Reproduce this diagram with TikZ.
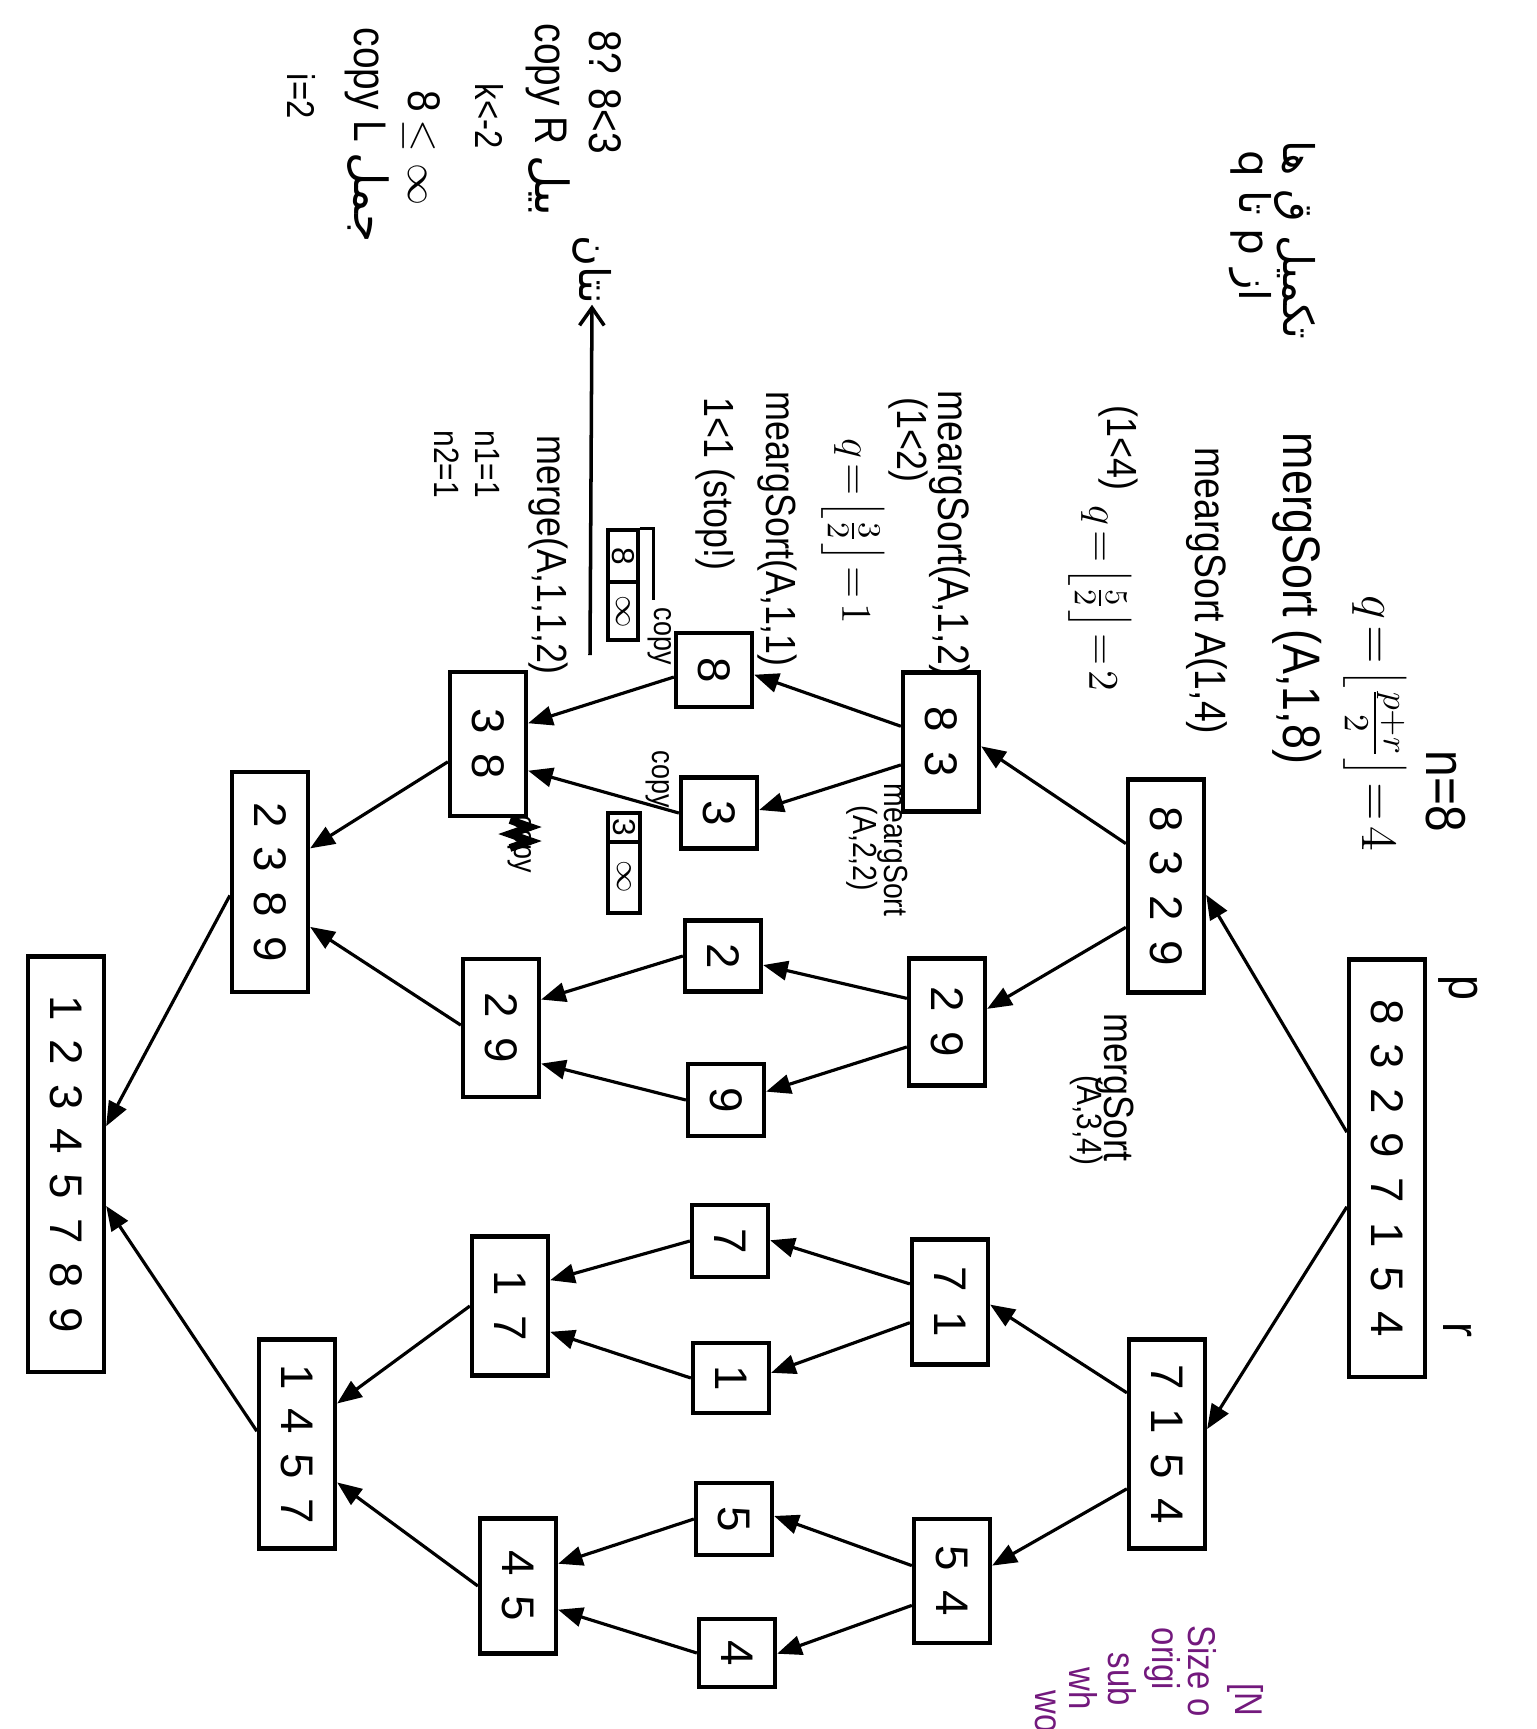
\documentclass[tikz,border=0pt]{standalone}
\usepackage{fontspec}
\setmainfont{Liberation Sans}
\newfontfamily\hwf[FakeStretch=0.85]{Liberation Sans}
\newfontfamily\fa[Script=Arabic]{DejaVu Sans}
\usetikzlibrary{calc,arrows.meta}
\TeXXeTstate=1
\definecolor{pur}{RGB}{115,25,125}
\newcommand\dg[1]{\rotatebox{-90}{#1}}
\newcommand\spc{\hspace{0.42em}}
\newcommand\mq[3]{$\medmuskip=1mu\thickmuskip=2mu q=\left\lfloor\frac{#1}{#2}\right\rfloor=#3$}
\newcommand\conn[4]{\draw[arr] ($(#1.north west)!#2!(#1.south west)$) -- ($(#3.north east)!#4!(#3.south east)$);}
\begin{document}
\begin{tikzpicture}[x=0.01cm,y=-0.01cm,
  bx/.style={draw,line width=1.2pt,minimum width=0.76cm,inner sep=0pt,font=\fontsize{13}{15}\selectfont},
  arr/.style={line width=0.9pt,-{Triangle[length=7pt,width=5.5pt]}},
  hw/.style={rotate=-90,anchor=west,inner sep=0pt,font=\hwf\fontsize{12}{14}\selectfont},
  hws/.style={rotate=-90,anchor=west,inner sep=0pt,font=\hwf\fontsize{9}{11}\selectfont},
  hwp/.style={rotate=-90,anchor=west,inner sep=0pt,font=\fa\fontsize{12}{14}\selectfont},
  pw/.style={rotate=-90,anchor=west,inner sep=0pt,text=pur,font=\hwf\fontsize{11}{13}\selectfont},
]
\useasboundingbox (0,0) rectangle (1537,1729);
\clip (0,0) rectangle (1537,1729);
% ---------- boxes ----------
\node[bx,minimum height=4.17cm] (root) at (1387,1168) {\dg{8\spc3\spc2\spc9\spc7\spc1\spc5\spc4}};
\node[bx,minimum height=2.13cm] (b8329) at (1166,886) {\dg{8\spc3\spc2\spc9}};
\node[bx,minimum height=2.09cm] (b7154) at (1167,1444) {\dg{7\spc1\spc5\spc4}};
\node[bx,minimum height=1.39cm] (b83) at (941,742) {\dg{8\spc3}};
\node[bx,minimum height=1.27cm] (b29) at (947,1022) {\dg{2\spc9}};
\node[bx,minimum height=1.25cm] (b71) at (950,1302) {\dg{7\spc1}};
\node[bx,minimum height=1.24cm] (b54) at (952,1581) {\dg{5\spc4}};
\node[bx,minimum height=0.74cm] (b8) at (714,670) {\dg{8}};
\node[bx,minimum height=0.71cm] (b3) at (719,813) {\dg{3}};
\node[bx,minimum height=0.71cm] (b2) at (723,956) {\dg{2}};
\node[bx,minimum height=0.72cm] (b9) at (726,1100) {\dg{9}};
\node[bx,minimum height=0.72cm] (b7) at (730,1241) {\dg{7}};
\node[bx,minimum height=0.70cm] (b1) at (731,1378) {\dg{1}};
\node[bx,minimum height=0.72cm] (b5) at (734,1519) {\dg{5}};
\node[bx,minimum height=0.68cm] (b4) at (737,1653) {\dg{4}};
\node[bx,minimum height=1.44cm] (m38) at (488,744) {\dg{3\spc8}};
\node[bx,minimum height=1.38cm] (m29) at (501,1028) {\dg{2\spc9}};
\node[bx,minimum height=1.39cm] (m17) at (510,1306) {\dg{1\spc7}};
\node[bx,minimum height=1.35cm] (m45) at (518,1586) {\dg{4\spc5}};
\node[bx,minimum height=2.20cm] (m2389) at (270,882) {\dg{2\spc3\spc8\spc9}};
\node[bx,minimum height=2.09cm] (m1457) at (297,1444) {\dg{1\spc4\spc5\spc7}};
\node[bx,minimum height=4.15cm] (final) at (66,1164) {\dg{1\spc2\spc3\spc4\spc5\spc7\spc8\spc9}};
% ---------- split arrows ----------
\conn{root}{0.415}{b8329}{0.54}
\conn{root}{0.592}{b7154}{0.43}
\conn{b8329}{0.305}{b83}{0.53}
\conn{b8329}{0.69}{b29}{0.40}
\conn{b7154}{0.26}{b71}{0.52}
\conn{b7154}{0.71}{b54}{0.38}
\conn{b83}{0.39}{b8}{0.56}
\conn{b83}{0.66}{b3}{0.46}
\conn{b29}{0.32}{b2}{0.62}
\conn{b29}{0.69}{b9}{0.39}
\conn{b71}{0.36}{b7}{0.49}
\conn{b71}{0.66}{b1}{0.43}
\conn{b54}{0.38}{b5}{0.46}
\conn{b54}{0.69}{b4}{0.51}
% ---------- merge arrows ----------
\conn{b8}{0.59}{m38}{0.36}
\conn{b3}{0.5}{m38}{0.68}
\conn{b2}{0.5}{m29}{0.30}
\conn{b9}{0.5}{m29}{0.75}
\conn{b7}{0.5}{m17}{0.32}
\conn{b1}{0.5}{m17}{0.68}
\conn{b5}{0.5}{m45}{0.34}
\conn{b4}{0.5}{m45}{0.67}
\conn{m38}{0.62}{m2389}{0.35}
\conn{m29}{0.48}{m2389}{0.70}
\conn{m17}{0.5}{m1457}{0.31}
\conn{m45}{0.5}{m1457}{0.68}
\conn{m2389}{0.56}{final}{0.41}
\conn{m1457}{0.44}{final}{0.60}
% ---------- labels p, r ----------
\node[hw,font=\hwf\fontsize{15}{17}\selectfont] (lp) at (1458,975) {p};
\node[hw,font=\hwf\fontsize{15}{17}\selectfont] (lr) at (1458,1322) {r};
% ---------- handwritten notes ----------
\node[hw,font=\hwf\fontsize{16}{18}\selectfont] (t1) at (1446,750) {n=8};
\node[hw,font=\hwf\fontsize{14}{16}\selectfont] (t2) at (1375,595) {\mq{p+r}{2}{4}};
\node[hw,font=\hwf\fontsize{15}{17}\selectfont] (t3) at (1297,432) {mergSort (A,1,8)};
\node[hw,font=\hwf\fontsize{12.5}{14}\selectfont] (t4) at (1207,447) {meargSort A(1,4)};
\node[hw] (t5) at (1118,405) {(1<4)};
\node[hw,font=\hwf\fontsize{13}{15}\selectfont] (t6) at (1100,505) {\mq{5}{2}{2}};
\node[hw,font=\hwf\fontsize{12.5}{14}\selectfont] (t7) at (950,390) {meargSort(A,1,2)};
\node[hw] (t8) at (908,397) {(1<2)};
\node[hw,font=\hwf\fontsize{13}{15}\selectfont] (t9) at (853,438) {\mq{3}{2}{1}};
\node[hw] (t10) at (777,391) {meargSort(A,1,1)};
\node[hw] (t11) at (715,397) {1<1 (stop!)};
\node[hw] (t12) at (548,435) {merge(A,1,1,2)};
\node[hw,font=\hwf\fontsize{10}{12}\selectfont] (t13) at (488,430) {n1=1};
\node[hw,font=\hwf\fontsize{10}{12}\selectfont] (t14) at (447,430) {n2=1};
\node[hw,font=\hwf\fontsize{9.5}{11}\selectfont] (t22a) at (893,783) {meargSort};
\node[hw,font=\hwf\fontsize{9.5}{11}\selectfont] (t22b) at (862,805) {(A,2,2)};
\node[hw] (t23a) at (1115,1013) {mergSort};
\node[hw,font=\hwf\fontsize{10}{12}\selectfont] (t23b) at (1087,1075) {(A,3,4)};
% Persian notes top right
\node[hwp] (fa1) at (1295,140) {\beginR تکمیل ق ها\endR};
\node[hwp] (fa2) at (1250,150) {\beginR از p تا q\endR};
% Persian word with arrow
\node[hwp] (fa3) at (592,235) {\beginR نتان\endR};
\coordinate (fa3e) at (590,655);
\draw[line width=1pt,-{Straight Barb[length=5pt,width=7pt]}] (fa3e) -- (fa3.east);
% top-left cluster
\node[hw,font=\hwf\fontsize{13}{15}\selectfont] (c1) at (605,30) {8? 8<3};
\node[hw,font=\hwf\fontsize{13}{15}\selectfont] (c2) at (548,23) {copy R {\fa\beginR بیل\endR}};
\node[hw,font=\hwf\fontsize{11}{13}\selectfont] (c3) at (490,83) {k<-2};
\node[hw,font=\hwf\fontsize{13}{15}\selectfont] (c4) at (422,90) {8$\,\leq\infty$};
\node[hw,font=\hwf\fontsize{13}{15}\selectfont] (c5) at (367,27) {copy L {\fa\beginR جمل\endR}};
\node[hw,font=\hwf\fontsize{11}{13}\selectfont] (c6) at (302,73) {i=2};
% small arrays and copy notes
\node[draw,line width=0.9pt,minimum width=0.30cm,minimum height=1.1cm,inner sep=0pt] (arrL) at (623,585) {};
\draw[line width=0.9pt] (arrL.west |- 0,582) -- (arrL.east |- 0,582);
\node[font=\fontsize{9}{10}\selectfont,inner sep=0pt] (arrL1) at (623,556) {\dg{8}};
\node[font=\fontsize{9}{10}\selectfont,inner sep=0pt] (arrL2) at (623,612) {\dg{$\infty$}};
\draw[line width=0.9pt] (arrL.north east) -- ++(14,0) -- ++(0,72);
\node[draw,line width=0.9pt,minimum width=0.32cm,minimum height=1.0cm,inner sep=0pt] (arrR) at (624,863) {};
\draw[line width=0.9pt] (arrR.west |- 0,842) -- (arrR.east |- 0,842);
\node[font=\fontsize{9}{10}\selectfont,inner sep=0pt] (arrR1) at (624,827) {\dg{3}};
\node[font=\fontsize{9}{10}\selectfont,inner sep=0pt] (arrR2) at (624,877) {\dg{$\infty$}};
\node[hws] (cp1) at (660,607) {copy};
\node[hws] (cp2) at (658,750) {copy};
\node[hws] (cp3) at (520,815) {copy};
\draw[line width=2.2pt] (510,820) -- (530,827) -- (510,834) -- (530,841) -- (510,848);
% purple note bottom right
\node[pw] (pr1) at (1245,1683) {[N};
\node[pw] (pr2) at (1202,1625) {Size o};
\node[pw] (pr3) at (1162,1627) {origi};
\node[pw] (pr4) at (1122,1652) {sub};
\node[pw] (pr5) at (1084,1667) {wh};
\node[pw] (pr6) at (1046,1690) {wo};
\end{tikzpicture}
\end{document}
